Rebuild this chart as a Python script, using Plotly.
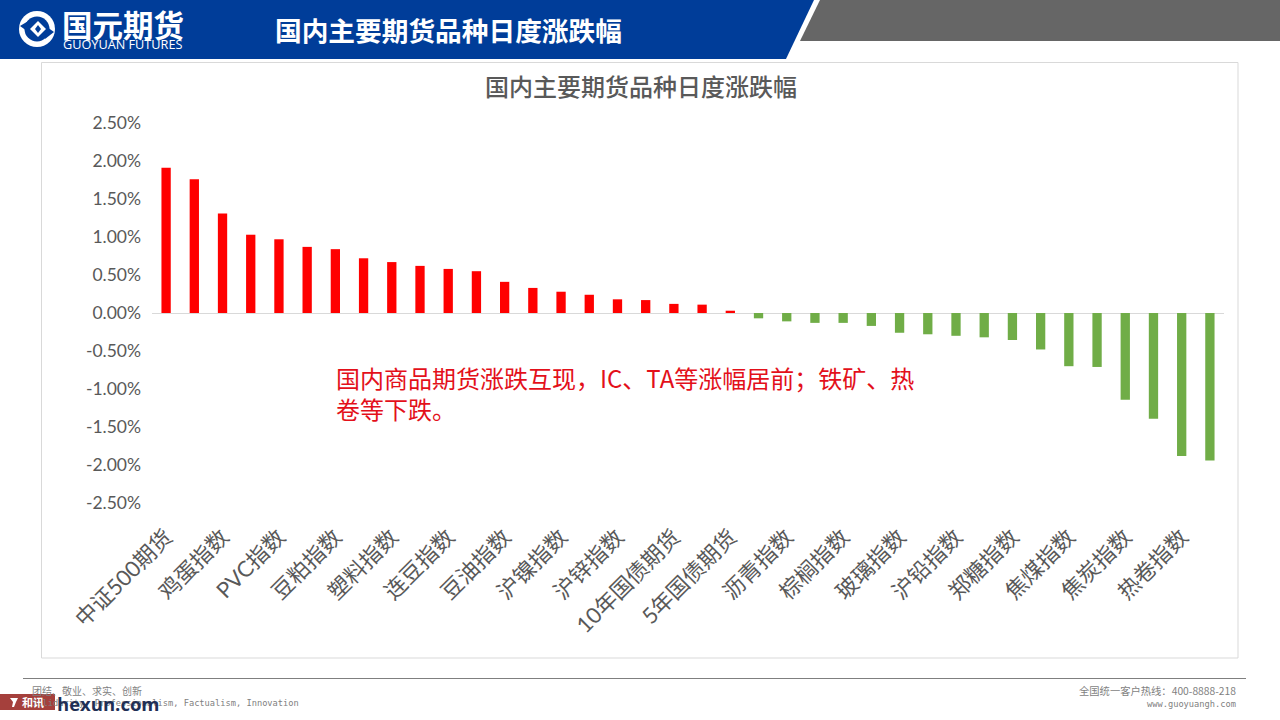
import plotly.graph_objects as go

W, H = 1280, 720

# every second bar carries a label in the source chart
tick_labels = [
    "中证500期货", "鸡蛋指数", "PVC指数", "豆粕指数", "塑料指数", "连豆指数", "豆油指数",
    "沪镍指数", "沪锌指数", "10年国债期货", "5年国债期货", "沥青指数", "棕榈指数", "玻璃指数",
    "沪铅指数", "郑糖指数", "焦煤指数", "焦炭指数", "热卷指数",
]
changes = [
    1.91, 1.76, 1.31, 1.03, 0.97, 0.87, 0.84, 0.72, 0.67, 0.62, 0.58, 0.55, 0.41, 0.33,
    0.28, 0.24, 0.18, 0.17, 0.12, 0.11, 0.03, -0.07, -0.11, -0.13, -0.13, -0.17, -0.26,
    -0.28, -0.30, -0.32, -0.355, -0.48, -0.70, -0.71, -1.14, -1.39, -1.88, -1.94,
]
y_ticks = [2.5, 2.0, 1.5, 1.0, 0.5, 0.0, -0.5, -1.0, -1.5, -2.0, -2.5]
y_tick_labels = ["2.50%", "2.00%", "1.50%", "1.00%", "0.50%", "0.00%",
                 "-0.50%", "-1.00%", "-1.50%", "-2.00%", "-2.50%"]

RED = "#FF0000"
GREEN = "#70AD47"
BLUE = "#003D99"
TEXT = "#595959"
FONT = "Lato, 'Noto Sans CJK SC', sans-serif"
CJK = "'Noto Sans CJK SC', sans-serif"
MONO = "'DejaVu Sans Mono', 'Noto Sans CJK SC', monospace"


def px(x):
    return x / W


def py(y):
    return 1 - y / H


def poly(points, color):
    path = "M " + " L ".join(f"{px(x):.5f},{py(y):.5f}" for x, y in points) + " Z"
    return dict(type="path", xref="paper", yref="paper", path=path,
                fillcolor=color, line=dict(width=0), layer="above")


def rect(x0, y0, x1, y1, fill="rgba(0,0,0,0)", line=None, width=1):
    return dict(type="rect", xref="paper", yref="paper",
                x0=px(x0), x1=px(x1), y0=py(y0), y1=py(y1), fillcolor=fill,
                line=dict(color=line or fill, width=width if line else 0), layer="above")


def circle(cx, cy, r, fill):
    return dict(type="circle", xref="paper", yref="paper",
                x0=px(cx - r), x1=px(cx + r), y0=py(cy - r), y1=py(cy + r),
                fillcolor=fill, line=dict(width=0), layer="above")


def label(x, y, text, size, color, anchor="left", font=CJK, weight=400):
    return dict(xref="paper", yref="paper", x=px(x), y=py(y), text=text, showarrow=False,
                xanchor=anchor, yanchor="middle", align="left", borderpad=0, borderwidth=0,
                font=dict(size=size, color=color, family=font, weight=weight))


fig = go.Figure(
    go.Bar(
        x=list(range(len(changes))),
        y=changes,
        marker=dict(color=[RED if v > 0 else GREEN for v in changes], line=dict(width=0)),
        width=0.33,
    )
)

shapes = [
    rect(41.5, 62.5, 1238, 658, fill="rgba(0,0,0,0)", line="#D9D9D9"),
    poly([(0, 0), (814, 0), (786, 59), (0, 59)], BLUE),
    poly([(820, 0), (1280, 0), (1280, 41), (800, 41)], "#666666"),
    rect(23, 678, 1246, 679, fill="#7F7F7F"),
    # logo mark
    circle(37, 29, 18, "#FFFFFF"),
    circle(37, 29, 12.5, BLUE),
    poly([(38, 21), (46, 29), (38, 37), (30, 29)], "#FFFFFF"),
    poly([(38, 25), (41, 29), (38, 33), (35, 29)], BLUE),
    poly([(20, 26), (30, 20), (27, 31)], BLUE),
    poly([(54, 32), (45, 39), (47, 27)], BLUE),
    # hexun watermark
    rect(0, 694, 55, 710, fill="#A5403C"),
    poly([(10, 698), (18, 698), (16, 702), (14, 707), (12, 707), (13, 702)], "#FFFFFF"),
]

annotations = [
    label(62, 24, "国元期货", 30.5, "#FFFFFF", weight=700),
    label(63, 44, "GUOYUAN FUTURES", 12.7, "#FFFFFF", font="'Open Sans', sans-serif"),
    label(275, 30, "国内主要期货品种日度涨跌幅", 26.7, "#FFFFFF", weight=700),
    label(641, 85, "国内主要期货品种日度涨跌幅", 24, TEXT, anchor="center", weight=500),
    label(336, 393.5, "国内商品期货涨跌互现，IC、TA等涨幅居前；铁矿、热<br>卷等下跌。", 24, "#E3101A"),
    label(32, 690, "团结、敬业、求实、创新", 10, "#7F7F7F"),
    label(32, 703, "Solidarity, Professionalism, Factualism, Innovation", 8.7, "#7F7F7F", font=MONO),
    label(1236, 690, "全国统一客户热线：400-8888-218", 10.3, "#7F7F7F", anchor="right"),
    label(1236, 704, "www.guoyuangh.com", 8.7, "#7F7F7F", anchor="right", font=MONO),
    label(33, 702, "和讯", 11, "#FFFFFF", anchor="center", weight=700),
    label(57, 703, "hexun.com", 18.5, "#1F2F55", font="'Open Sans', sans-serif", weight=700),
]

fig.update_layout(
    width=W,
    height=H,
    margin=dict(l=0, r=0, t=0, b=0, autoexpand=False),
    paper_bgcolor="#FFFFFF",
    plot_bgcolor="#FFFFFF",
    showlegend=False,
    font=dict(family=FONT, color=TEXT),
    shapes=shapes,
    annotations=annotations,
    xaxis=dict(
        domain=[152 / W, 1224 / W],
        range=[-0.5, 37.5],
        tickmode="array",
        tickvals=list(range(0, len(changes), 2)),
        ticktext=tick_labels,
        tickangle=-45,
        tickfont=dict(size=22, color=TEXT, family=FONT),
        ticklabelstandoff=16,
        showgrid=False,
        zeroline=False,
        showline=False,
        ticks="",
    ),
    yaxis=dict(
        domain=[1 - 503 / H, 1 - 123 / H],
        range=[-2.5, 2.5],
        tickmode="array",
        tickvals=y_ticks,
        ticktext=y_tick_labels,
        tickfont=dict(size=17.5, color=TEXT, family=FONT),
        ticklabelstandoff=10,
        showgrid=False,
        zeroline=True,
        zerolinecolor="#D9D9D9",
        zerolinewidth=1,
        showline=False,
        ticks="",
    ),
)

fig.write_html("out.html", config={"displayModeBar": False},
               post_script="document.body.style.margin='0';")
